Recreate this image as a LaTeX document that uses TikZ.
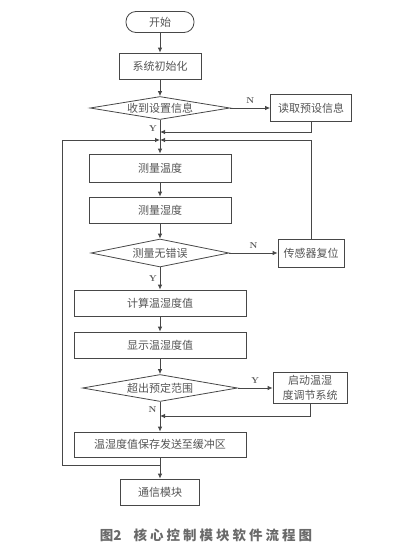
\documentclass[tikz,border=0pt]{standalone}
\usepackage{fontspec}
\usepackage{xcolor}
\usetikzlibrary{positioning,arrows.meta,backgrounds}
\usepgflibrary{shapes.geometric}
\newfontfamily\cjk{Noto Sans CJK SC}
\definecolor{linegray}{HTML}{474747}
\definecolor{textgray}{HTML}{555555}
\definecolor{capgray}{HTML}{6A6A6A}
\tikzset{%
every node/.style={font=\cjk\fontsize{11}{15}\selectfont,text=textgray},
startstop/.style={draw=linegray,rectangle,rounded corners=10pt,minimum width=68pt,minimum height=21pt,inner sep=0pt},
procbox/.style={draw=linegray,rectangle,minimum height=26pt,inner sep=0pt},
decision/.style={draw=linegray,diamond,aspect=6,inner sep=0pt},
flow/.style={draw=linegray,-{Latex[length=5pt,width=4.5pt]}},
yn/.style={font=\normalfont\bfseries\fontsize{8.5}{9}\selectfont,inner sep=0pt},
captext/.style={font=\cjk\bfseries\fontsize{13.5}{15}\selectfont,text=capgray,inner sep=0pt}
}

\begin{document}
\begin{tikzpicture}[x=1pt,y=-1pt,line width=0.8pt]
  \useasboundingbox (0,0) rectangle (413,547);

  \node[startstop] (start) at (160,22) {开始};
  \node[procbox,minimum width=82pt] (init) at (160,66) {系统初始化};
  \node[decision,minimum width=140pt,minimum height=23pt] (recv) at (160,108) {收到设置信息};
  \node[procbox,minimum width=81pt,minimum height=27pt] (read) at (311,108) {读取预设信息};
  \node[procbox,minimum width=142pt,minimum height=28pt] (temp) at (160,168) {测量温度};
  \node[procbox,minimum width=142pt] (humi) at (160,210) {测量湿度};
  \node[decision,minimum width=138pt,minimum height=28pt] (check) at (160,253) {测量无错误};
  \node[procbox,minimum width=66pt,minimum height=28pt] (reset) at (311,253) {传感器复位};
  \node[procbox,minimum width=172pt] (calc) at (160,303) {计算温湿度值};
  \node[procbox,minimum width=172pt] (show) at (160,345) {显示温湿度值};
  \node[decision,minimum width=155pt,minimum height=27pt] (range) at (160,388) {超出预定范围};
  \node[procbox,minimum width=74pt,minimum height=31pt,align=center] (adjust) at (310,388) {启动温湿\\度调节系统};
  \node[procbox,minimum width=172pt,minimum height=25pt] (save) at (160,444.5) {温湿度值保存发送至缓冲区};
  \node[procbox,minimum width=79pt] (comm) at (160,492) {通信模块};

  \coordinate (m1) at (160,132);
  \coordinate (m2) at (160,140);
  \coordinate (m3) at (160,416);
  \coordinate (loopstart) at (160,465);
  \coordinate (loopcorner) at (62,465);

  \draw[flow] (start) -- (init);
  \draw[flow] (init) -- (recv);
  \draw[flow] (recv) -- (read) node[yn,midway,above=4pt] {N};
  \draw[flow] (recv) -- (temp) node[yn,pos=0.25,left=3pt] {Y};
  \draw[flow] (read) |- (m1);
  \draw[flow] (reset) |- (m2);
  \draw[flow] (loopstart) -- (loopcorner) |- (m2);
  \draw[flow] (temp) -- (humi);
  \draw[flow] (humi) -- (check);
  \draw[flow] (check) -- (reset) node[yn,midway,above=4pt] {N};
  \draw[flow] (check) -- (calc) node[yn,midway,left=3pt] {Y};
  \draw[flow] (calc) -- (show);
  \draw[flow] (show) -- (range);
  \draw[flow] (range) -- (adjust) node[yn,midway,above=4pt] {Y};
  \draw[flow] (adjust) |- (m3);
  \draw[flow] (range) -- (save) node[yn,pos=0.25,left=3pt] {N};
  \draw[flow] (save) -- (comm);

  \node[captext] (cap) at (206,535) {图2\hspace{12pt}核\kern3pt 心\kern3pt 控\kern3pt 制\kern3pt 模\kern3pt 块\kern3pt 软\kern3pt 件\kern3pt 流\kern3pt 程\kern3pt 图};
\end{tikzpicture}
\end{document}
